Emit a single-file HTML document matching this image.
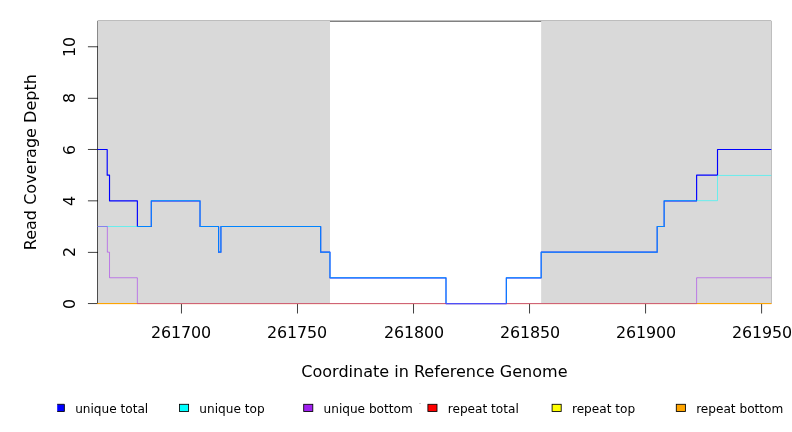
<!DOCTYPE html>
<html><head><meta charset="utf-8"><title>Read Coverage Depth</title>
<style>html,body{margin:0;padding:0;background:#fff;}svg{display:block;}text{font-family:'DejaVu Sans','Liberation Sans',sans-serif;fill:#000;}</style>
</head><body>
<svg width="792" height="432" viewBox="0 0 792 432">
<rect x="0" y="0" width="792" height="432" fill="#fff"/>
<rect x="97.92" y="21.12" width="672.96" height="282.38" fill="none" stroke="#000" stroke-width="0.75"/>
<g stroke="#000" stroke-width="0.75" fill="none" stroke-linecap="round">
<path d="M97.92 303.55V46.75"/>
<path d="M97.92 303.55H88.32"/>
<path d="M97.92 252.39H88.32"/>
<path d="M97.92 200.83H88.32"/>
<path d="M97.92 149.47H88.32"/>
<path d="M97.92 98.31H88.32"/>
<path d="M97.92 46.75H88.32"/>
<path d="M181.46 303.5H761.6"/>
<path d="M181.46 303.5V313.1"/>
<path d="M297.49 303.5V313.1"/>
<path d="M413.52 303.5V313.1"/>
<path d="M529.54 303.5V313.1"/>
<path d="M645.57 303.5V313.1"/>
<path d="M761.6 303.5V313.1"/>
</g>
<rect x="98" y="21" width="231.98" height="282" fill="#d9d9d9"/>
<rect x="541.15" y="21" width="229.85" height="282" fill="#d9d9d9"/>
<g fill="none" stroke-linejoin="round" stroke-linecap="round">
<polyline points="97.92,303.55 770.88,303.55" stroke="#ff0000" stroke-width="0.8"/>
<polyline points="97.92,303.55 770.88,303.55" stroke="#ffff00" stroke-width="0.8"/>
<polyline points="97.92,303.55 770.88,303.55" stroke="#ff9a04" stroke-width="0.8"/>
<polyline points="97.92,149.47 107.2,149.47 107.2,175.15 109.52,175.15 109.52,200.83 137.37,200.83 137.37,226.51 151.29,226.51 151.29,200.83 200.02,200.83 200.02,226.51 218.59,226.51 218.59,252.19 220.91,252.19 220.91,226.51 320.69,226.51 320.69,252.19 329.98,252.19 329.98,277.87 446,277.87 446,303.55 506.34,303.55 506.34,277.87 541.15,277.87 541.15,252.19 657.17,252.19 657.17,226.51 664.13,226.51 664.13,200.83 696.62,200.83 696.62,175.15 717.51,175.15 717.51,149.47 770.88,149.47" stroke="#0000ff" stroke-width="1.15"/>
<polyline points="97.92,226.51 151.29,226.51 151.29,200.65 200.02,200.65 200.02,226.51 218.59,226.51 218.59,252.19 220.91,252.19 220.91,226.51 320.69,226.51 320.69,252.19 329.98,252.19 329.98,277.75 446,277.75 446,303.55 506.34,303.55 506.34,277.75 541.15,277.75 541.15,252.19 657.17,252.19 657.17,226.51 664.13,226.51 664.13,200.65 717.51,200.65 717.51,175.45 770.88,175.45" stroke="#00ffff" stroke-width="0.65" stroke-opacity="0.8"/>
<polyline points="97.92,226.51 107.35,226.51 107.35,252.19 109.52,252.19 109.52,277.75 137.37,277.75 137.37,303.55 696.62,303.55 696.62,277.75 770.88,277.75" stroke="#a020f0" stroke-width="0.65" stroke-opacity="0.8"/>
</g>
<g font-size="16.05" text-anchor="middle">
<text x="150.92" y="338" text-anchor="start" font-size="15.9" letter-spacing="-0.1">261700</text>
<text x="266.95" y="338" text-anchor="start" font-size="15.9" letter-spacing="-0.1">261750</text>
<text x="383.98" y="338" text-anchor="start" font-size="15.9" letter-spacing="-0.1">261800</text>
<text x="500" y="338" text-anchor="start" font-size="15.9" letter-spacing="-0.1">261850</text>
<text x="616.03" y="338" text-anchor="start" font-size="15.9" letter-spacing="-0.1">261900</text>
<text x="732.06" y="338" text-anchor="start" font-size="15.9" letter-spacing="-0.1">261950</text>
<text transform="translate(75 304) rotate(-90)" font-size="15.9" letter-spacing="-0.1">0</text>
<text transform="translate(75 251.89) rotate(-90)" font-size="15.9" letter-spacing="-0.1">2</text>
<text transform="translate(75 200.88) rotate(-90)" font-size="15.9" letter-spacing="-0.1">4</text>
<text transform="translate(75 150.07) rotate(-90)" font-size="15.9" letter-spacing="-0.1">6</text>
<text transform="translate(75 97.91) rotate(-90)" font-size="15.9" letter-spacing="-0.1">8</text>
<text transform="translate(75 47.05) rotate(-90)" font-size="15.9" letter-spacing="-0.1">10</text>
<text x="434.4" y="376.7">Coordinate in Reference Genome</text>
<text transform="translate(36.3 162.2) rotate(-90)">Read Coverage Depth</text>
</g>
<g font-size="12.12">
<rect x="57.2" y="404.3" width="7.2" height="7.2" fill="#0000ff"/>
<path d="M57.2 404.3H64.4V411.5H57.2" fill="none" stroke="#000" stroke-width="0.85"/>
<text x="75.15" y="412.5">unique total</text>
<rect x="179.5" y="404.3" width="9.1" height="7.2" fill="#00ffff" stroke="#000" stroke-width="0.85"/>
<text x="199.35" y="412.5">unique top</text>
<rect x="303.7" y="404.3" width="9.1" height="7.2" fill="#a020f0" stroke="#000" stroke-width="0.85"/>
<text x="323.55" y="412.5">unique bottom</text>
<rect x="427.9" y="404.3" width="9.1" height="7.2" fill="#ff0000" stroke="#000" stroke-width="0.85"/>
<text x="447.75" y="412.5">repeat total</text>
<rect x="552.1" y="404.3" width="9.1" height="7.2" fill="#ffff00" stroke="#000" stroke-width="0.85"/>
<text x="571.95" y="412.5">repeat top</text>
<rect x="676.3" y="404.3" width="9.1" height="7.2" fill="#ffa500" stroke="#000" stroke-width="0.85"/>
<text x="696.15" y="412.5">repeat bottom</text>
</g>
<rect x="419" y="403" width="2" height="1" fill="#cfcfcf"/>
</svg>
</body></html>
